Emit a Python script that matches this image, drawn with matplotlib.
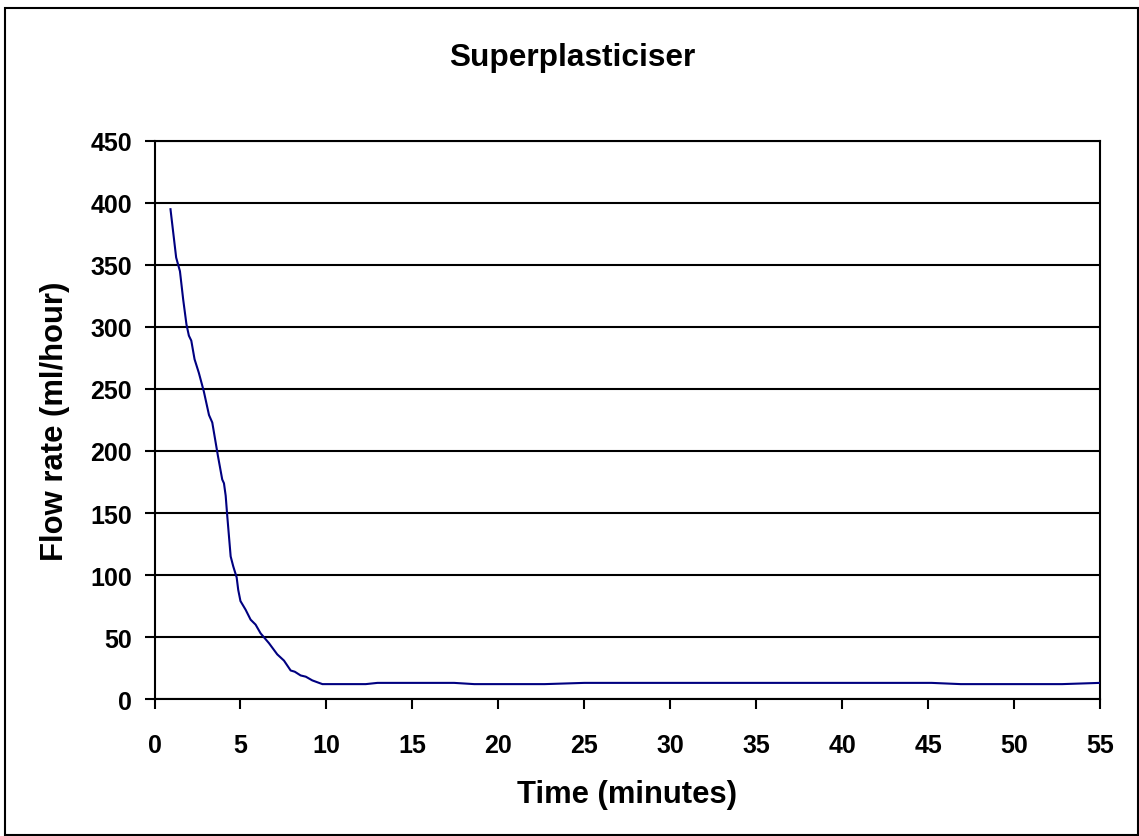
import matplotlib
matplotlib.use("Agg")
import matplotlib.pyplot as plt
from matplotlib.patches import Rectangle

plt.rcParams['font.family'] = ['Liberation Sans', 'DejaVu Sans']

title = "Superplasticiser"
x_label = "Time (minutes)"
y_label = "Flow rate (ml/hour)"

time_min = [0.93, 1.26, 1.48, 1.67, 1.86, 2.0, 2.14, 2.33, 2.58, 2.87, 3.17, 3.36,
            3.69, 3.94, 4.04, 4.14, 4.23, 4.43, 4.58, 4.78, 4.87, 5.0, 5.3, 5.59,
            5.88, 6.17, 6.66, 7.14, 7.53, 7.92, 8.16, 8.5, 8.8, 9.18, 9.57, 9.77,
            12.29, 12.97, 17.43, 18.6, 22.7, 25.0, 45.2, 46.9, 52.8, 55.0]
flow_rate = [395, 356, 345, 322, 302, 293, 289, 274, 263, 248, 229, 223,
             196, 177, 174, 164, 148, 115, 107, 98, 88, 79, 72, 64,
             60, 53, 45, 36, 31, 23, 22, 19, 18, 15, 13, 12,
             12, 13, 13, 12, 12, 13, 13, 12, 12, 13]

x_ticks = list(range(0, 56, 5))
y_ticks = list(range(0, 451, 50))

W, H = 1139, 837
fig = plt.figure(figsize=(W/100, H/100), dpi=100)
L, R, T, B = 154.5, 1100, 142, 700
ax = fig.add_axes([L/W, 1-B/H, (R-L)/W, (B-T)/H])

ax.plot(time_min, flow_rate, color='#000080', linewidth=1.5, zorder=3)

ax.set_xlim(0, 55)
ax.set_ylim(0, 450)
ax.set_xticks(x_ticks)
ax.set_yticks(y_ticks)
ax.yaxis.grid(True, color='black', linewidth=1.5)
ax.set_axisbelow(True)
for s in ax.spines.values():
    s.set_color('black')
    s.set_linewidth(1.5)
ax.tick_params(axis='both', direction='out', length=7.2, width=1.5, labelsize=18)
ax.tick_params(axis='x', pad=17.5)
ax.tick_params(axis='y', pad=9)
for lab in ax.get_xticklabels() + ax.get_yticklabels():
    lab.set_fontweight('bold')

ax.set_xlabel(x_label, fontsize=22.3, fontweight='bold', va='baseline')
ax.xaxis.set_label_coords(0.5, (B-803)/(B-T))
ax.set_ylabel(y_label, fontsize=22.3, fontweight='bold', va='center', ha='center')
ax.yaxis.set_label_coords((55-L)/(R-L), 0.5)
fig.text(572/W, 1-66/H, title, fontsize=22.8, fontweight='bold', ha='center', va='baseline')

fig.patches.append(Rectangle((5/W, 1-835.5/H), (1137.5-5)/W, (835.5-9)/H,
                             transform=fig.transFigure, fill=False, edgecolor='black', linewidth=1.5))

fig.savefig('out.png', dpi=100)
